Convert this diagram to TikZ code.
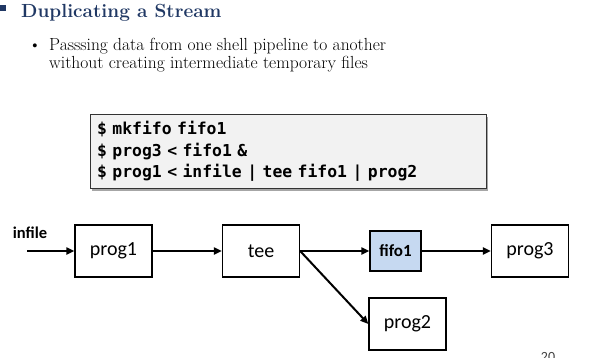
\documentclass[tikz,border=0pt]{standalone}
\usepackage{fontspec}
\usepackage{tikz}
\usepackage{xcolor}
\usetikzlibrary{arrows.meta,shadows}

\newfontfamily\boxfont{Carlito}
\newfontfamily\codefont{DejaVu Sans Mono}
\definecolor{titleblue}{HTML}{203864}
\definecolor{fifoblue}{HTML}{C6D9F1}
\definecolor{codegray}{HTML}{F2F2F2}

\begin{document}
\begin{tikzpicture}[x=1pt, y=-1pt, >={Triangle[length=8pt,width=7pt]},
    prog/.style={draw, line width=1.3pt, minimum width=77pt, minimum height=52pt,
        inner sep=0pt, font=\boxfont\fontsize{20}{24}\selectfont},
    flow/.style={->, line width=2pt},
    body/.style={anchor=base west, inner sep=0pt, font=\fontsize{17.5}{18}\selectfont}]
    \useasboundingbox (0,0) rectangle (590,357);
    \clip (0,0) rectangle (590,357);

    % Title
    \fill[titleblue] (0,5) rectangle (6,11);
    \node[anchor=base west, inner sep=0pt, text=titleblue,
        font=\bfseries\fontsize{19}{22}\selectfont] (title) at (21,17) {Duplicating a Stream};

    % Bullet
    \node[anchor=base, inner sep=0pt, font=\fontsize{17.5}{18}\selectfont] (dot) at (35,50) {\textbullet};
    \node[body] (line1) at (49,50) {Passsing data from one shell pipeline to another};
    \node[body] (line2) at (49,68) {without creating intermediate temporary files};

    % Commands
    \node[draw=black!80, line width=1.2pt, fill=codegray,
        drop shadow={shadow xshift=1pt, shadow yshift=-2pt, fill=gray!70, opacity=1},
        anchor=north west, minimum width=396pt, minimum height=74pt, text width=383pt,
        inner xsep=6pt, align=left, font=\codefont\bfseries\fontsize{16.4}{21.5}\selectfont]
        (cmd) at (90,114) {\$ mkfifo fifo1\\\$ prog3 < fifo1 \&\\\$ prog1 < infile | tee fifo1 | prog2};

    % Pipeline
    \node[font=\boxfont\bfseries\fontsize{16.5}{20}\selectfont, inner sep=0pt] (infile) at (30,233) {infile};
    \coordinate (in) at (27,251);
    \node[prog] (prog1) at (113.5,251) {prog1};
    \node[prog] (tee) at (261,251) {tee};
    \node[prog, fill=fifoblue, minimum width=51pt, minimum height=40pt,
        font=\boxfont\bfseries\fontsize{17}{20}\selectfont] (fifo) at (395.5,251) {fifo1};
    \node[prog] (prog3) at (530,251) {prog3};
    \node[prog] (prog2) at (407.5,324) {prog2};

    \draw[flow] (in) -- (prog1);
    \draw[flow] (prog1) -- (tee);
    \draw[flow] (tee) -- (fifo);
    \draw[flow] (fifo) -- (prog3);
    \draw[flow] (tee.east) -- (prog2.west);

    % Page number
    \node[anchor=north, inner sep=0pt, text=black!75,
        font=\boxfont\fontsize{14}{16}\selectfont] (page) at (548,352) {20};
\end{tikzpicture}
\end{document}
